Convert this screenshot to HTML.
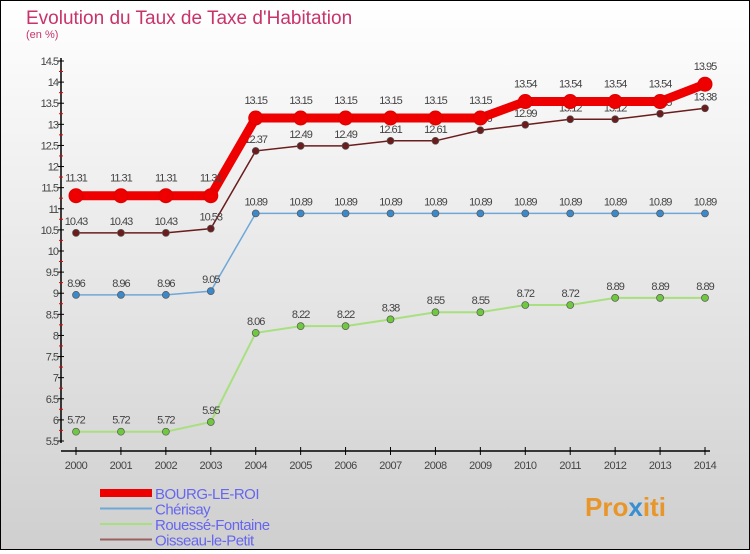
<!DOCTYPE html>
<html><head><meta charset="utf-8"><style>
html,body{margin:0;padding:0}
body{width:750px;height:550px;overflow:hidden;font-family:"Liberation Sans",sans-serif}
#wrap{position:relative;width:748px;height:548px;border:1px solid #000;background:linear-gradient(#ffffff,#cfcfcf)}
</style></head><body>
<div id="wrap">
<svg id="chart" width="748" height="548" viewBox="1 1 748 548" font-family="Liberation Sans, sans-serif">
<text x="26" y="24" font-size="19" fill="#c8336a">Evolution du Taux de Taxe d'Habitation</text>
<text x="26" y="38" font-size="11" fill="#c8336a">(en %)</text>
<g id="axes"></g><g id="series"></g><g id="legend"></g>
<text x="585" y="516" font-size="26" font-weight="bold" fill="#e8962a">Pro<tspan fill="#3a8fd0">x</tspan>iti</text>
</svg>
</div>
<script>
const years=[2000,2001,2002,2003,2004,2005,2006,2007,2008,2009,2010,2011,2012,2013,2014];
const bourg=[11.31,11.31,11.31,11.31,13.15,13.15,13.15,13.15,13.15,13.15,13.54,13.54,13.54,13.54,13.95];
const cherisay=[8.96,8.96,8.96,9.05,10.89,10.89,10.89,10.89,10.89,10.89,10.89,10.89,10.89,10.89,10.89];
const rouesse=[5.72,5.72,5.72,5.95,8.06,8.22,8.22,8.38,8.55,8.55,8.72,8.72,8.89,8.89,8.89];
const oisseau=[10.43,10.43,10.43,10.53,12.37,12.49,12.49,12.61,12.61,12.86,12.99,13.12,13.12,13.25,13.38];
const yTicks=[5.5,6,6.5,7,7.5,8,8.5,9,9.5,10,10.5,11,11.5,12,12.5,13,13.5,14,14.5];
const names=["BOURG-LE-ROI","Chérisay","Rouessé-Fontaine","Oisseau-le-Petit"];
const NS="http://www.w3.org/2000/svg";
const X=i=>76+i*(705-76)/14;
const Y=v=>441-(v-5.5)*(380/9);
function mk(t,a,p){const e=document.createElementNS(NS,t);for(const k in a)e.setAttribute(k,a[k]);p.appendChild(e);return e;}
const ax=document.getElementById('axes');
const yl=mk('line',{x1:61,y1:58,x2:61,y2:443,stroke:'#000','stroke-width':1.5},ax);


yTicks.forEach(v=>{
 mk('line',{x1:58,x2:64,y1:Y(v),y2:Y(v),stroke:'#000'},ax);
 if(v>5.5) mk('line',{x1:59,x2:63,y1:Y(v)+10.5,y2:Y(v)+10.5,stroke:'#e00'},ax);
 const t=mk('text',{x:58,y:Y(v)+4,'font-size':11,'text-anchor':'end',fill:'#444','letter-spacing':'-1'},ax);
 t.textContent=v;
 
 
});
const xl=mk('line',{x1:61,y1:451,x2:710,y2:451,stroke:'#000','stroke-width':1.5},ax);


years.forEach((y,i)=>{
 mk('line',{x1:X(i),x2:X(i),y1:447,y2:455,stroke:'#000'},ax);
 const t=mk('text',{x:X(i),y:469,'font-size':11,'text-anchor':'middle',fill:'#444','letter-spacing':'-0.5'},ax);
 t.textContent=y;
 
 
});
const sg=document.getElementById('series');
const cfg=[[oisseau,'#6b1c1c','#6b1c1c',1.5,3.5,'oisseau-le-petit'],[rouesse,'#a8e080','#70c840',2,3.5,'rouesse-fontaine'],[cherisay,'#6fa8d8','#3d88c8',1.5,3.5,'cherisay'],[bourg,'#ee0000','#ee0000',9,7,'bourg-le-roi']];
cfg.forEach(([d,c,pc,w,r,n])=>{
 const g=mk('g',{},sg);
 
 
 const pl=mk('polyline',{points:d.map((v,i)=>X(i)+','+Y(v)).join(' '),fill:'none',stroke:c,'stroke-width':w},g);
 
 
 d.forEach((v,i)=>{
  const p=mk('circle',{cx:X(i),cy:Y(v),r:r,fill:pc,stroke:n==='bourg-le-roi'?'#d00':'#555','stroke-width':n==='bourg-le-roi'?1:0.7},g);
  
  
  const t=mk('text',{x:X(i),y:Y(v)-(n==='bourg-le-roi'?14:8),'font-size':11,'text-anchor':'middle',fill:'#444','letter-spacing':'-1'},g);
  t.textContent=v;
  
  
 });
});
const lg=document.getElementById('legend');
const lc=[['#ee0000',8],['#6fa8d8',2],['#a8e080',2],['#9a6060',2]];
names.forEach((n,i)=>{
 const y=493+i*15.5;
 const l=mk('line',{x1:100,x2:152,y1:y,y2:y,stroke:lc[i][0],'stroke-width':lc[i][1]},lg);
 
 
 const t=mk('text',{x:155,y:y+6,'font-size':15,fill:'#6666ee','letter-spacing':'-0.5'},lg);
 t.textContent=n;
 
 
});
</script>
</body></html>
